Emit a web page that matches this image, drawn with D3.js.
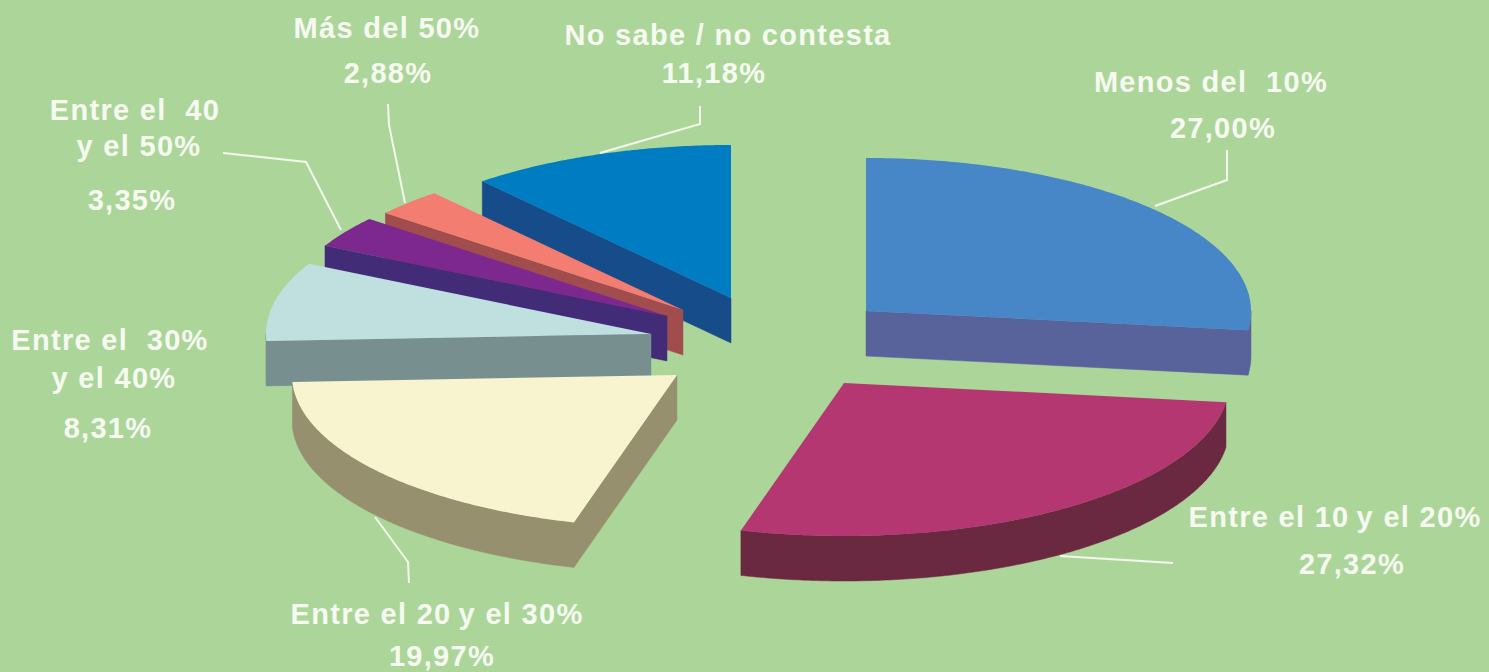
<!DOCTYPE html>
<html lang="es">
<head>
<meta charset="utf-8">
<title>Distribución porcentual</title>
<script src="https://d3js.org/d3.v7.min.js"></script>
<style>
  html, body { margin: 0; padding: 0; background: #acd699; }
  svg { display: block; }
  text {
    font-family: "Liberation Sans", Arial, sans-serif;
    font-weight: 700;
    font-size: 29px;
    letter-spacing: 1.3px;
    fill: #f6faf1;
    white-space: pre;
    text-anchor: middle;
  }
</style>
</head>
<body>
<svg id="chart" width="1489" height="672"></svg>
<script>
// Categories and their shares, clockwise from twelve o'clock
const categories = [
  "Menos del  10%",
  "Entre el 10 y el 20%",
  "Entre el 20 y el 30%",
  "Entre el  30% y el 40%",
  "Entre el  40 y el 50%",
  "Más del 50%",
  "No sabe / no contesta"
];
const shares = [27.00, 27.32, 19.97, 8.31, 3.35, 2.88, 11.18];

// Lines of each category label as they are broken on the page
const labelLines = [
  ["Menos del  10%"],
  ["Entre el 10\u2009y el 20%"],
  ["Entre el 20\u2009y el 30%"],
  ["Entre el  30%", "y el 40%"],
  ["Entre el  40", "y el 50%"],
  ["Más del 50%"],
  ["No sabe / no contesta"]
];

// Colours of the top face and of the side walls
const topColors  = ["#4787c7", "#b53771", "#f9f4d0", "#bfe0df", "#7c288e", "#f47d72", "#007cc3"];
const wallColors = ["#58629b", "#6a2940", "#97906e", "#77908f", "#422c78", "#a14d4d", "#174c8b"];

// Layout of the exploded pie
const centerX = 760, centerY = 340;
const radiusX = 385, radiusY = 153, depth = 45;
const explodeX = [106, 84, -83, -109, -93, -77, -29];
const explodeY = [-29, 43, 35, -6, -24, -30, -42];
const paintOrder = [0, 1, 6, 5, 4, 3, 2];

// Label anchors: x and baseline for each text line, then for the percentage
const labelAnchors = [
  { lines: [[1211, 92]], pct: [1223, 138] },
  { lines: [[1335, 527]], pct: [1352, 574] },
  { lines: [[437, 624]], pct: [442, 666] },
  { lines: [[110, 350], [114, 388]], pct: [108, 438] },
  { lines: [[135, 120], [139, 156]], pct: [132, 210] },
  { lines: [[387, 38]], pct: [388, 83] },
  { lines: [[728, 45]], pct: [714, 83] }
];

// Leader lines joining labels to their slices
const leaders = [
  [[1155, 206], [1227, 180], [1227, 150]],
  [[1060, 556], [1173, 563]],
  [[375, 517], [408, 562], [409, 583]],
  [[223, 153], [306, 162], [341, 230]],
  [[388, 104], [389, 125], [405, 203]],
  [[600, 153], [700, 124], [700, 106]]
];

const svg = d3.select("#chart");
const formatPct = d3.formatLocale({ decimal: ",", thousands: ".", grouping: [3], currency: ["", "%"] }).format(".2f");
const pie = d3.pie().value(d => d).sort(null);
const slices = pie(shares);
const path = d3.line();

// Projects a pie angle (0 at top, clockwise) onto the tilted ellipse of slice i
function project(i, angle, drop = 0) {
  return [
    centerX + explodeX[i] + radiusX * Math.sin(angle),
    centerY + explodeY[i] - radiusY * Math.cos(angle) + drop
  ];
}

function arcPoints(i, a0, a1, drop = 0) {
  const n = Math.max(2, Math.ceil((a1 - a0) / 0.01));
  return d3.range(n + 1).map(k => project(i, a0 + (a1 - a0) * k / n, drop));
}

const apex = (i, drop = 0) => [centerX + explodeX[i], centerY + explodeY[i] + drop];
const halfTurn = Math.PI;

const sliceGroups = svg.append("g").selectAll("g")
  .data(paintOrder)
  .join("g")
  .attr("class", i => `slice slice-${i}`)
  .attr("aria-label", i => `${categories[i]}: ${formatPct(shares[i])}%`);

sliceGroups.each(function (i) {
  const g = d3.select(this);
  const { startAngle: a0, endAngle: a1 } = slices[i];
  const wall = d => g.append("path").attr("d", path(d) + "Z")
    .attr("fill", wallColors[i]).attr("stroke", wallColors[i]).attr("stroke-width", 0.5);

  // Outer rim, only where it faces the viewer
  const rim0 = Math.max(a0, halfTurn / 2), rim1 = Math.min(a1, 3 * halfTurn / 2);
  if (rim1 > rim0) {
    wall(arcPoints(i, rim0, rim1).concat(arcPoints(i, rim0, rim1, depth).reverse()));
  }
  // Cut faces, only where they face the viewer
  if (a0 > halfTurn) {
    wall([apex(i), project(i, a0), project(i, a0, depth), apex(i, depth)]);
  }
  if (a1 < halfTurn) {
    wall([apex(i), project(i, a1), project(i, a1, depth), apex(i, depth)]);
  }
  // Top face
  g.append("path")
    .attr("d", path([apex(i), ...arcPoints(i, a0, a1)]) + "Z")
    .attr("fill", topColors[i]);
});

svg.append("g").selectAll("path")
  .data(leaders)
  .join("path")
  .attr("d", path)
  .attr("fill", "none")
  .attr("stroke", "#f4f9ee")
  .attr("stroke-width", 2);

const labels = svg.append("g").selectAll("g")
  .data(labelLines)
  .join("g");

labels.each(function (lines, i) {
  const g = d3.select(this);
  lines.forEach((line, k) => {
    const [x, y] = labelAnchors[i].lines[k];
    g.append("text").attr("x", x).attr("y", y).text(line);
  });
  const [px, py] = labelAnchors[i].pct;
  g.append("text").attr("x", px).attr("y", py).text(`${formatPct(shares[i])}%`);
});
</script>
</body>
</html>
